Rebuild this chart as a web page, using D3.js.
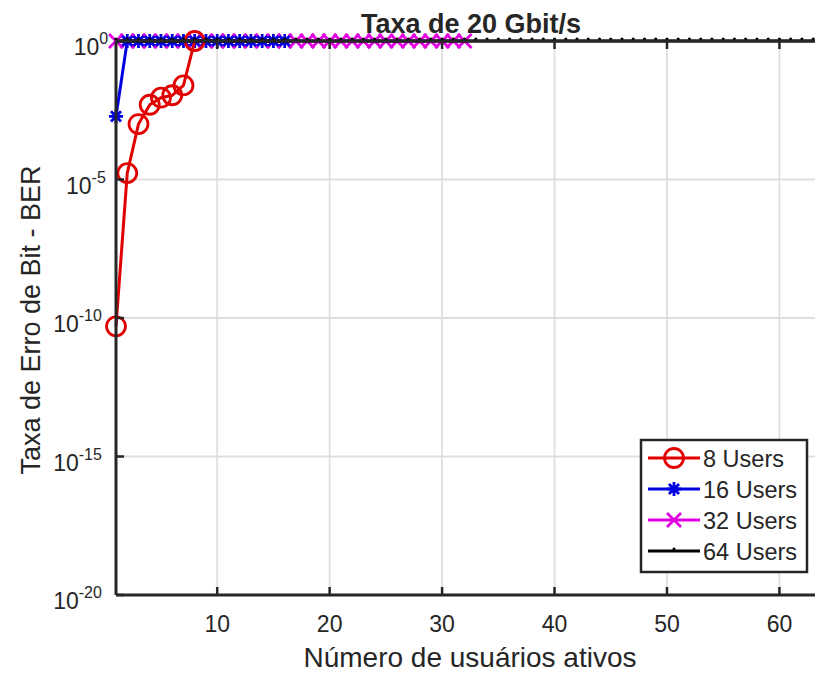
<!DOCTYPE html>
<html>
<head>
<meta charset="utf-8">
<script src="https://cdn.jsdelivr.net/npm/d3@7"></script>
<style>
  body { margin: 0; background: #fff; }
  text { font-family: "Liberation Sans", Arial, sans-serif; fill: #262626; }
</style>
</head>
<body>
<svg id="chart" width="815" height="673"></svg>
<script>
// data (BER vs active users)
var users8  = [1, 2, 3, 4, 5, 6, 7, 8];
var ber8    = [5e-11, 1.7e-5, 1e-3, 5e-3, 9e-3, 1.1e-2, 2.5e-2, 1];
var users16 = d3.range(1, 17);
var ber16   = [1.9e-3, 1, 1, 1, 1, 1, 1, 1, 1, 1, 1, 1, 1, 1, 1, 1];
var users32 = d3.range(1, 33);
var ber32   = users32.map(function(){ return 1; });
var users64 = d3.range(1, 65);
var ber64   = users64.map(function(){ return 1; });

var xTicks = [10, 20, 30, 40, 50, 60];
var yTicks = [0, -5, -10, -15, -20];
var seriesNames = ["8 Users", "16 Users", "32 Users", "64 Users"];

var svg = d3.select("#chart");
var margin = {left: 116, top: 41, right: 824.4, bottom: 595};

var x = d3.scaleLinear().domain([1, 64]).range([margin.left, margin.right]);
var y = d3.scaleLog().domain([1e-20, 1]).range([margin.bottom, margin.top]);

var axisColor = "#262626";
var gridColor = "#dfdfdf";

// grid
var grid = svg.append("g");
grid.selectAll(".gx").data(xTicks).enter().append("line")
    .attr("x1", function(d){ return x(d); }).attr("x2", function(d){ return x(d); })
    .attr("y1", margin.top).attr("y2", margin.bottom)
    .attr("stroke", gridColor).attr("stroke-width", 1.8);
grid.selectAll(".gy").data(yTicks).enter().append("line")
    .attr("x1", margin.left).attr("x2", margin.right)
    .attr("y1", function(d){ return y(Math.pow(10, d)); })
    .attr("y2", function(d){ return y(Math.pow(10, d)); })
    .attr("stroke", gridColor).attr("stroke-width", 1.8);

// series
var lineFun = d3.line()
    .x(function(d){ return x(d[0]); })
    .y(function(d){ return y(d[1]); });

function zip(a, b){ return a.map(function(v, i){ return [v, b[i]]; }); }

var series = [
  {name: seriesNames[0], data: zip(users8, ber8), color: "#e00000", marker: "circle", z: 2},
  {name: seriesNames[1], data: zip(users16, ber16), color: "#0000e0", marker: "star", z: 1},
  {name: seriesNames[2], data: zip(users32, ber32), color: "#e000e0", marker: "cross", z: 0},
  {name: seriesNames[3], data: zip(users64, ber64), color: "#000000", marker: "dot", z: 3}
];

function drawMarker(g, type, cx, cy, color){
  if (type === "circle") {
    g.append("circle").attr("cx", cx).attr("cy", cy).attr("r", 9.5)
      .attr("fill", "none").attr("stroke", color).attr("stroke-width", 2.8);
  } else if (type === "star") {
    var s = 7;
    var p = "M" + (cx - s) + "," + cy + "L" + (cx + s) + "," + cy +
            "M" + cx + "," + (cy - s) + "L" + cx + "," + (cy + s) +
            "M" + (cx - s*0.72) + "," + (cy - s*0.72) + "L" + (cx + s*0.72) + "," + (cy + s*0.72) +
            "M" + (cx - s*0.72) + "," + (cy + s*0.72) + "L" + (cx + s*0.72) + "," + (cy - s*0.72);
    g.append("path").attr("d", p).attr("stroke", color).attr("stroke-width", 2.8).attr("fill", "none");
  } else if (type === "cross") {
    var c = 7;
    var q = "M" + (cx - c) + "," + (cy - c) + "L" + (cx + c) + "," + (cy + c) +
            "M" + (cx - c) + "," + (cy + c) + "L" + (cx + c) + "," + (cy - c);
    g.append("path").attr("d", q).attr("stroke", color).attr("stroke-width", 2.8).attr("fill", "none");
  } else {
    g.append("circle").attr("cx", cx).attr("cy", cy - 2).attr("r", 1.6).attr("fill", color);
  }
}

var plot = svg.append("g");
series.slice().sort(function(a, b){ return a.z - b.z; }).forEach(function(s){
  var g = plot.append("g");
  g.append("path").attr("d", lineFun(s.data))
    .attr("fill", "none").attr("stroke", s.color).attr("stroke-width", 3);
  s.data.forEach(function(d){ drawMarker(g, s.marker, x(d[0]), y(d[1]), s.color); });
});

// axes box
var ax = svg.append("g");
ax.append("line").attr("x1", margin.left).attr("x2", margin.right)
  .attr("y1", margin.bottom).attr("y2", margin.bottom)
  .attr("stroke", axisColor).attr("stroke-width", 3);
ax.append("line").attr("x1", margin.left).attr("x2", margin.right)
  .attr("y1", margin.top).attr("y2", margin.top)
  .attr("stroke", axisColor).attr("stroke-width", 3);
ax.append("line").attr("x1", margin.left).attr("x2", margin.left)
  .attr("y1", margin.top).attr("y2", margin.bottom)
  .attr("stroke", axisColor).attr("stroke-width", 3);

// x ticks
ax.selectAll(".xt").data(xTicks).enter().append("path")
  .attr("d", function(d){
    return "M" + x(d) + "," + margin.bottom + "v-8M" + x(d) + "," + margin.top + "v8";
  })
  .attr("stroke", axisColor).attr("stroke-width", 2.5);
ax.selectAll(".xl").data(xTicks).enter().append("text")
  .attr("x", function(d){ return x(d); }).attr("y", 632)
  .attr("text-anchor", "middle").attr("font-size", 23)
  .text(function(d){ return d; });

// y ticks
ax.selectAll(".yt").data(yTicks).enter().append("path")
  .attr("d", function(d){ return "M" + margin.left + "," + y(Math.pow(10, d)) + "h8"; })
  .attr("stroke", axisColor).attr("stroke-width", 2.5);

// labels are aligned as if the exponent were full size (like the reference)
function expText(d){ return d === 0 ? "0" : "-" + (-d); }
yTicks.forEach(function(d){
  var probe = ax.append("text").attr("font-size", 23).text("10" + expText(d));
  var w = probe.node().getComputedTextLength();
  probe.remove();
  var t = ax.append("text")
    .attr("x", 112 - w).attr("y", y(Math.pow(10, d)) + 14)
    .attr("font-size", 23);
  t.append("tspan").text("10");
  t.append("tspan").attr("dy", -11).attr("font-size", 16).text(expText(d));
});

// labels
svg.append("text").attr("x", 470).attr("y", 667).attr("text-anchor", "middle")
  .attr("font-size", 28).text("Número de usuários ativos");
svg.append("text").attr("transform", "translate(40,320) rotate(-90)")
  .attr("text-anchor", "middle").attr("font-size", 27).text("Taxa de Erro de Bit - BER");
svg.append("text").attr("x", 471).attr("y", 33).attr("text-anchor", "middle")
  .attr("font-size", 27).attr("font-weight", "bold").attr("fill", "#000").text("Taxa de 20 Gbit/s");

// legend
var lg = svg.append("g");
lg.append("rect").attr("x", 641).attr("y", 440).attr("width", 166).attr("height", 132)
  .attr("fill", "#fff").attr("stroke", axisColor).attr("stroke-width", 2.5);
series.forEach(function(s, i){
  var cy = 458 + i * 31;
  lg.append("line").attr("x1", 648).attr("x2", 700).attr("y1", cy).attr("y2", cy)
    .attr("stroke", s.color).attr("stroke-width", 3);
  drawMarker(lg, s.marker, 674, cy, s.color);
  lg.append("text").attr("x", 703).attr("y", cy + 8.5).attr("font-size", 23.5).text(s.name);
});
</script>
</body>
</html>
